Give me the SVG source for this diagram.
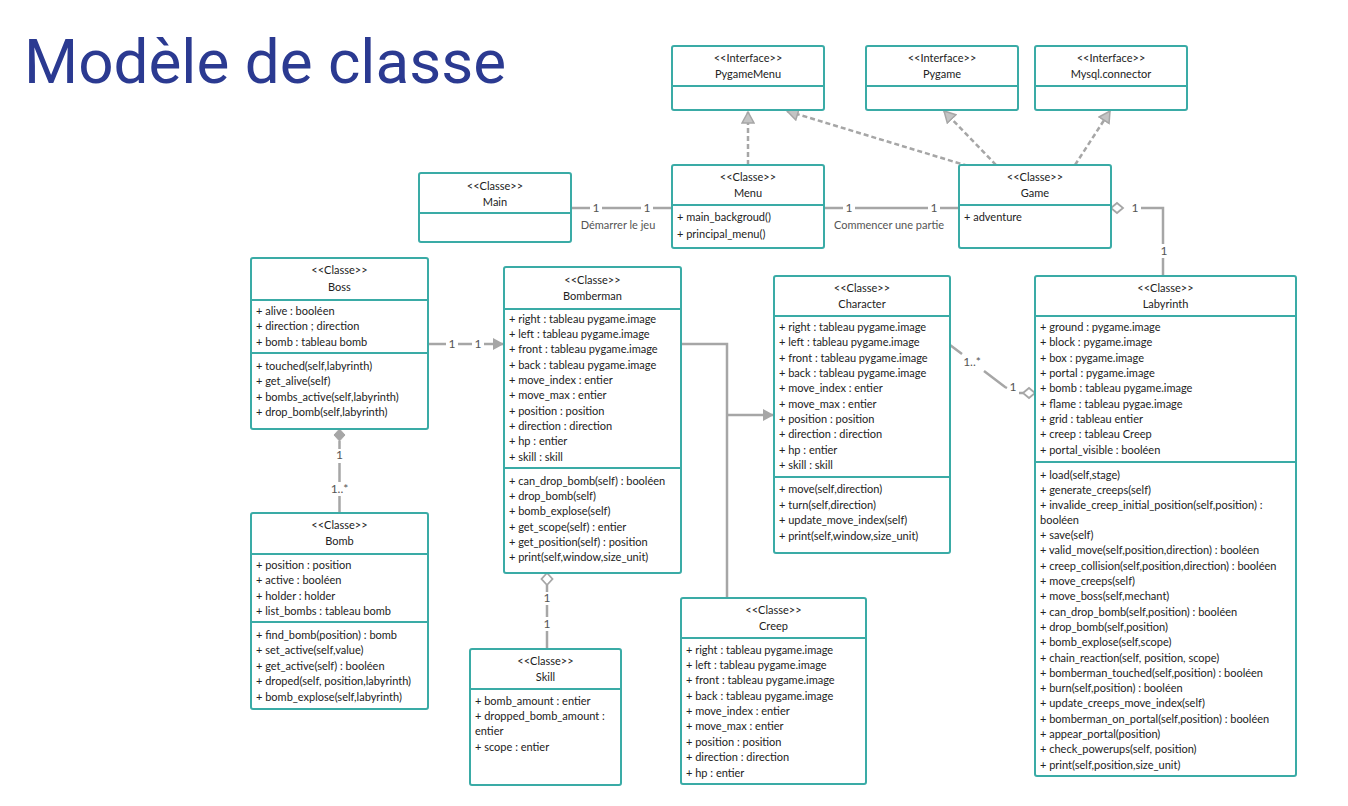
<svg xmlns="http://www.w3.org/2000/svg" width="1348" height="806" viewBox="0 0 1348 806">
<style>
.box{fill:#fff;stroke:#3aaba6;stroke-width:2}
.div{stroke:#3aaba6;stroke-width:2}
text{font-family:Lato,"Open Sans","Liberation Sans",sans-serif;font-size:11px;fill:#222}
.c{text-anchor:middle}
.title{font-family:Roboto,"Liberation Sans",sans-serif;font-size:62px;fill:#2b3a91}
.ln{stroke:#a6a6a6;stroke-width:2.5;fill:none}
.dash{stroke-dasharray:5,3}
.lbl{fill:#555;font-size:12px;text-anchor:middle}
.bg{fill:#fff}
.note{fill:#555;font-size:11px;text-anchor:middle}
</style>
<defs>
<marker id="solid" markerWidth="12" markerHeight="12" refX="10" refY="6" orient="auto" markerUnits="userSpaceOnUse"><path d="M0,0 L11,6 L0,12 Z" fill="#a6a6a6"/></marker>
<marker id="real" markerWidth="14" markerHeight="14" refX="12" refY="7" orient="auto" markerUnits="userSpaceOnUse"><path d="M1,1 L12,7 L1,13 Z" fill="#c4c4c4" stroke="#a6a6a6" stroke-width="1.5"/></marker>
</defs>
<text class="title" x="24" y="83">Modèle de classe</text>

<g id="connectors">
<line class="ln dash" x1="748" y1="165" x2="748" y2="112" marker-end="url(#real)"/>
<line class="ln dash" x1="968" y1="166" x2="787" y2="111" marker-end="url(#real)"/>
<line class="ln dash" x1="996" y1="165" x2="944" y2="111" marker-end="url(#real)"/>
<line class="ln dash" x1="1075" y1="165" x2="1110" y2="111" marker-end="url(#real)"/>
<path class="ln" d="M571,208 L590,208 M602,208 L641,208 M653,208 L672,208"/>
<text class="lbl" x="596" y="212">1</text>
<text class="lbl" x="647" y="212">1</text>
<text class="note" x="618" y="229">Démarrer le jeu</text>
<path class="ln" d="M824,208 L843,208 M855,208 L928,208 M940,208 L959,208"/>
<text class="lbl" x="849" y="212">1</text>
<text class="lbl" x="934" y="212">1</text>
<text class="note" x="889" y="229">Commencer une partie</text>
<path class="ln" d="M1141,208 L1163,208 L1163,244 M1163,258 L1163,276"/>
<path d="M1111,208 L1117,203 L1123,208 L1117,213 Z" fill="#fff" stroke="#a6a6a6" stroke-width="1.8"/>
<text class="lbl" x="1135" y="212">1</text>
<text class="lbl" x="1164" y="255">1</text>
<path class="ln" d="M428,344 L446,344 M458,344 L472,344" />
<line class="ln" x1="484" y1="344" x2="503" y2="344" marker-end="url(#solid)"/>
<text class="lbl" x="452" y="348">1</text>
<text class="lbl" x="478" y="348">1</text>
<path class="ln" d="M339.5,441 L339.5,449 M339.5,463 L339.5,482 M339.5,496 L339.5,513"/>
<path d="M339.5,429 L345,435 L339.5,441 L334,435 Z" fill="#a6a6a6" stroke="#a6a6a6" stroke-width="1"/>
<text class="lbl" x="339.5" y="459">1</text>
<text class="lbl" x="339.5" y="493">1..*</text>
<path class="ln" d="M547,585 L547,592 M547,605 L547,617 M547,631 L547,649"/>
<path d="M547,573 L552.5,579 L547,585 L541.5,579 Z" fill="#fff" stroke="#a6a6a6" stroke-width="1.8"/>
<text class="lbl" x="547" y="602">1</text>
<text class="lbl" x="547" y="628">1</text>
<path class="ln" d="M681,344 L727,344 L727,598"/>
<line class="ln" x1="727" y1="415" x2="773" y2="415" marker-end="url(#solid)"/>
<path class="ln" d="M950,345 L962,354 M984,371 L1005,387 L1007,388 M1019,393 L1023,393"/>
<path d="M1023,393 L1029,388 L1035,393 L1029,398 Z" fill="#fff" stroke="#a6a6a6" stroke-width="1.8"/>
<text class="lbl" x="972" y="366">1..*</text>
<text class="lbl" x="1013" y="391">1</text>
</g>

<g id="PygameMenu">
<rect class="box" x="672" y="46" width="152" height="64" rx="2"/>
<line class="div" x1="672" y1="86" x2="824" y2="86"/>
<text class="c" x="748" y="62">&lt;&lt;Interface&gt;&gt;</text>
<text class="c" x="748" y="78">PygameMenu</text>
</g>
<g id="Pygame">
<rect class="box" x="866" y="46" width="152" height="64" rx="2"/>
<line class="div" x1="866" y1="86" x2="1018" y2="86"/>
<text class="c" x="942" y="62">&lt;&lt;Interface&gt;&gt;</text>
<text class="c" x="942" y="78">Pygame</text>
</g>
<g id="Mysql">
<rect class="box" x="1035" y="46" width="152" height="64" rx="2"/>
<line class="div" x1="1035" y1="86" x2="1187" y2="86"/>
<text class="c" x="1111" y="62">&lt;&lt;Interface&gt;&gt;</text>
<text class="c" x="1111" y="78">Mysql.connector</text>
</g>

<g id="Main">
<rect class="box" x="419" y="173" width="152" height="69" rx="2"/>
<line class="div" x1="419" y1="213" x2="571" y2="213"/>
<text class="c" x="495" y="190">&lt;&lt;Classe&gt;&gt;</text>
<text class="c" x="495" y="206">Main</text>
</g>
<g id="Menu">
<rect class="box" x="672" y="165" width="152" height="83" rx="2"/>
<line class="div" x1="672" y1="205" x2="824" y2="205"/>
<text class="c" x="748" y="181">&lt;&lt;Classe&gt;&gt;</text>
<text class="c" x="748" y="197">Menu</text>
<text x="677" y="221">+ main_backgroud()</text>
<text x="677" y="238">+ principal_menu()</text>
</g>
<g id="Game">
<rect class="box" x="959" y="165" width="152" height="83" rx="2"/>
<line class="div" x1="959" y1="205" x2="1111" y2="205"/>
<text class="c" x="1035" y="181">&lt;&lt;Classe&gt;&gt;</text>
<text class="c" x="1035" y="197">Game</text>
<text x="964" y="221">+ adventure</text>
</g>

<g id="Boss">
<rect class="box" x="251" y="258" width="177" height="171" rx="2"/>
<line class="div" x1="251" y1="300" x2="428" y2="300"/>
<line class="div" x1="251" y1="353" x2="428" y2="353"/>
<text class="c" x="339.5" y="274">&lt;&lt;Classe&gt;&gt;</text>
<text class="c" x="339.5" y="291">Boss</text>
<text x="256" y="315">+ alive : booléen</text>
<text x="256" y="330">+ direction ; direction</text>
<text x="256" y="346">+ bomb : tableau bomb</text>
<text x="256" y="370">+ touched(self,labyrinth)</text>
<text x="256" y="385">+ get_alive(self)</text>
<text x="256" y="401">+ bombs_active(self,labyrinth)</text>
<text x="256" y="416">+ drop_bomb(self,labyrinth)</text>
</g>

<g id="Bomb">
<rect class="box" x="251" y="513" width="177" height="196" rx="2"/>
<line class="div" x1="251" y1="554" x2="428" y2="554"/>
<line class="div" x1="251" y1="622" x2="428" y2="622"/>
<text class="c" x="339.5" y="529">&lt;&lt;Classe&gt;&gt;</text>
<text class="c" x="339.5" y="545">Bomb</text>
<text x="256" y="569">+ position : position</text>
<text x="256" y="584">+ active : booléen</text>
<text x="256" y="600">+ holder : holder</text>
<text x="256" y="615">+ list_bombs : tableau bomb</text>
<text x="256" y="639">+ find_bomb(position) : bomb</text>
<text x="256" y="654">+ set_active(self,value)</text>
<text x="256" y="670">+ get_active(self) : booléen</text>
<text x="256" y="685">+ droped(self, position,labyrinth)</text>
<text x="256" y="701">+ bomb_explose(self,labyrinth)</text>
</g>

<g id="Bomberman">
<rect class="box" x="504" y="267" width="177" height="306" rx="2"/>
<line class="div" x1="504" y1="309" x2="681" y2="309"/>
<line class="div" x1="504" y1="468" x2="681" y2="468"/>
<text class="c" x="592.5" y="284">&lt;&lt;Classe&gt;&gt;</text>
<text class="c" x="592.5" y="300">Bomberman</text>
<text x="509" y="323">+ right : tableau pygame.image</text>
<text x="509" y="338">+ left : tableau pygame.image</text>
<text x="509" y="353">+ front : tableau pygame.image</text>
<text x="509" y="369">+ back : tableau pygame.image</text>
<text x="509" y="384">+ move_index : entier</text>
<text x="509" y="399">+ move_max : entier</text>
<text x="509" y="415">+ position : position</text>
<text x="509" y="430">+ direction : direction</text>
<text x="509" y="445">+ hp : entier</text>
<text x="509" y="461">+ skill : skill</text>
<text x="509" y="485">+ can_drop_bomb(self) : booléen</text>
<text x="509" y="500">+ drop_bomb(self)</text>
<text x="509" y="515">+ bomb_explose(self)</text>
<text x="509" y="531">+ get_scope(self) : entier</text>
<text x="509" y="546">+ get_position(self) : position</text>
<text x="509" y="561">+ print(self,window,size_unit)</text>
</g>

<g id="Skill">
<rect class="box" x="470" y="649" width="151" height="136" rx="2"/>
<line class="div" x1="470" y1="689" x2="621" y2="689"/>
<text class="c" x="545.5" y="665">&lt;&lt;Classe&gt;&gt;</text>
<text class="c" x="545.5" y="681">Skill</text>
<text x="475" y="705">+ bomb_amount : entier</text>
<text x="475" y="720">+ dropped_bomb_amount :</text>
<text x="475" y="735">entier</text>
<text x="475" y="751">+ scope : entier</text>
</g>

<g id="Character">
<rect class="box" x="774" y="276" width="176" height="277" rx="2"/>
<line class="div" x1="774" y1="316" x2="950" y2="316"/>
<line class="div" x1="774" y1="477" x2="950" y2="477"/>
<text class="c" x="862" y="292">&lt;&lt;Classe&gt;&gt;</text>
<text class="c" x="862" y="308">Character</text>
<text x="779" y="331">+ right : tableau pygame.image</text>
<text x="779" y="346">+ left : tableau pygame.image</text>
<text x="779" y="362">+ front : tableau pygame.image</text>
<text x="779" y="377">+ back : tableau pygame.image</text>
<text x="779" y="392">+ move_index : entier</text>
<text x="779" y="408">+ move_max : entier</text>
<text x="779" y="423">+ position : position</text>
<text x="779" y="438">+ direction : direction</text>
<text x="779" y="454">+ hp : entier</text>
<text x="779" y="469">+ skill : skill</text>
<text x="779" y="493">+ move(self,direction)</text>
<text x="779" y="509">+ turn(self,direction)</text>
<text x="779" y="524">+ update_move_index(self)</text>
<text x="779" y="540">+ print(self,window,size_unit)</text>
</g>

<g id="Creep">
<rect class="box" x="681" y="598" width="185" height="186" rx="2"/>
<line class="div" x1="681" y1="638" x2="866" y2="638"/>
<text class="c" x="773.5" y="614">&lt;&lt;Classe&gt;&gt;</text>
<text class="c" x="773.5" y="630">Creep</text>
<text x="686" y="654">+ right : tableau pygame.image</text>
<text x="686" y="669">+ left : tableau pygame.image</text>
<text x="686" y="684">+ front : tableau pygame.image</text>
<text x="686" y="700">+ back : tableau pygame.image</text>
<text x="686" y="715">+ move_index : entier</text>
<text x="686" y="730">+ move_max : entier</text>
<text x="686" y="746">+ position : position</text>
<text x="686" y="761">+ direction : direction</text>
<text x="686" y="777">+ hp : entier</text>
</g>

<g id="Labyrinth">
<rect class="box" x="1035" y="276" width="261" height="500" rx="2"/>
<line class="div" x1="1035" y1="316" x2="1296" y2="316"/>
<line class="div" x1="1035" y1="462" x2="1296" y2="462"/>
<text class="c" x="1165.5" y="292">&lt;&lt;Classe&gt;&gt;</text>
<text class="c" x="1165.5" y="308">Labyrinth</text>
<text x="1040" y="331">+ ground : pygame.image</text>
<text x="1040" y="346">+ block : pygame.image</text>
<text x="1040" y="362">+ box : pygame.image</text>
<text x="1040" y="377">+ portal : pygame.image</text>
<text x="1040" y="392">+ bomb : tableau pygame.image</text>
<text x="1040" y="408">+ flame : tableau pygae.image</text>
<text x="1040" y="423">+ grid : tableau entier</text>
<text x="1040" y="438">+ creep : tableau Creep</text>
<text x="1040" y="454">+ portal_visible : booléen</text>
<text x="1040" y="479">+ load(self,stage)</text>
<text x="1040" y="494">+ generate_creeps(self)</text>
<text x="1040" y="509">+ invalide_creep_initial_position(self,position) :</text>
<text x="1040" y="524">booléen</text>
<text x="1040" y="539">+ save(self)</text>
<text x="1040" y="554">+ valid_move(self,position,direction) : booléen</text>
<text x="1040" y="570">+ creep_collision(self,position,direction) : booléen</text>
<text x="1040" y="585">+ move_creeps(self)</text>
<text x="1040" y="600">+ move_boss(self,mechant)</text>
<text x="1040" y="616">+ can_drop_bomb(self,position) : booléen</text>
<text x="1040" y="631">+ drop_bomb(self,position)</text>
<text x="1040" y="646">+ bomb_explose(self,scope)</text>
<text x="1040" y="662">+ chain_reaction(self, position, scope)</text>
<text x="1040" y="677">+ bomberman_touched(self,position) : booléen</text>
<text x="1040" y="692">+ burn(self,position) : booléen</text>
<text x="1040" y="707">+ update_creeps_move_index(self)</text>
<text x="1040" y="723">+ bomberman_on_portal(self,position) : booléen</text>
<text x="1040" y="738">+ appear_portal(position)</text>
<text x="1040" y="753">+ check_powerups(self, position)</text>
<text x="1040" y="769">+ print(self,position,size_unit)</text>
</g>
</svg>
